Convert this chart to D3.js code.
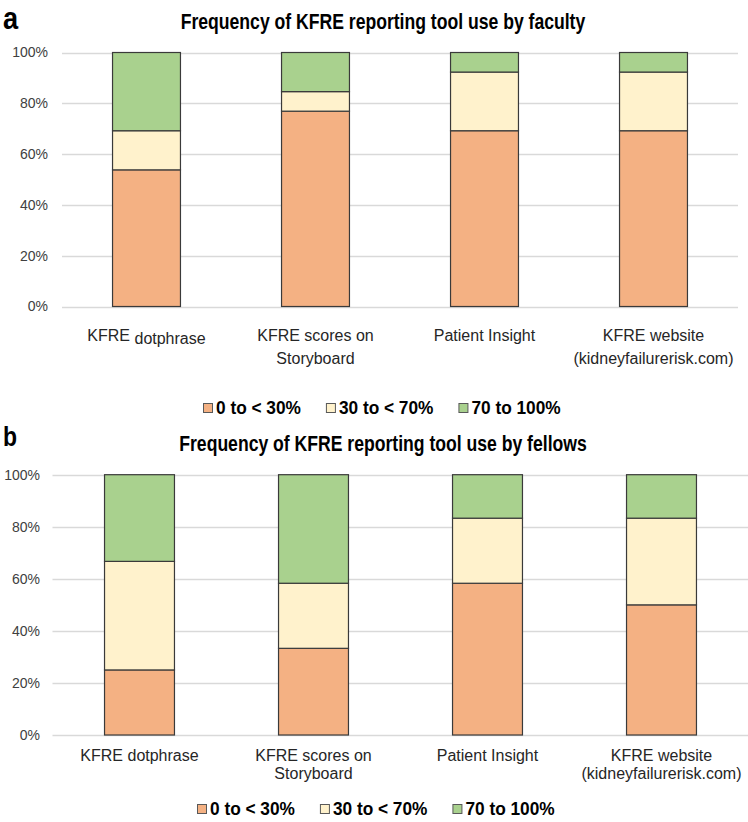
<!DOCTYPE html>
<html>
<head>
<meta charset="utf-8">
<script src="https://cdn.jsdelivr.net/npm/d3@7/dist/d3.min.js"></script>
<style>
  html, body { margin: 0; padding: 0; background: #ffffff; }
  svg { display: block; }
</style>
</head>
<body>
<svg id="chart" width="748" height="822"></svg>
<script>
// ---------- data ----------
const categories = ["KFRE dotphrase", "KFRE scores on Storyboard", "Patient Insight", "KFRE website (kidneyfailurerisk.com)"];
const categoryLines = [["KFRE dotphrase"], ["KFRE scores on", "Storyboard"], ["Patient Insight"], ["KFRE website", "(kidneyfailurerisk.com)"]];
const seriesNames = ["0 to < 30%", "30 to < 70%", "70 to 100%"];
const seriesColors = ["#F4B183", "#FFF2CC", "#A9D18E"];

const facultyLow  = [53.8, 76.9, 69.2, 69.2];
const facultyMid  = [15.4,  7.7, 23.1, 23.1];
const facultyHigh = [30.8, 15.4,  7.7,  7.7];

const fellowsLow  = [25.0, 33.3, 58.3, 50.0];
const fellowsMid  = [41.7, 25.0, 25.0, 33.3];
const fellowsHigh = [33.3, 41.7, 16.7, 16.7];

const yTicks = [0, 20, 40, 60, 80, 100];
const tickLabels = ["0%", "20%", "40%", "60%", "80%", "100%"];

const titles = ["Frequency of KFRE reporting tool use by faculty", "Frequency of KFRE reporting tool use by fellows"];
const panelLetters = ["a", "b"];

// ---------- drawing ----------
const svg = d3.select("#chart");
const FONT = "'Liberation Sans', Arial, sans-serif";

function drawPanel(p) {
  const g = svg.append("g");
  const rows = categories.map((c, i) => ({
    cat: c,
    low: p.low[i], mid: p.mid[i], high: p.high[i]
  }));
  const stack = d3.stack().keys(["low", "mid", "high"])(rows);

  const x = d3.scaleBand().domain(categories).range([p.x0, p.x1]).paddingInner(p.pad).paddingOuter(p.pad / 2);
  const y = d3.scaleLinear().domain([0, 100]).range([p.y0, p.y1]);

  // panel letter (condensed bold)
  g.append("text")
    .attr("transform", `translate(${p.letterX},${p.letterY}) scale(0.85,1)`)
    .attr("font-family", FONT).attr("font-weight", "bold")
    .attr("font-size", p.letterSize).attr("fill", "#000").text(p.letter);

  // title (condensed bold)
  g.append("text")
    .attr("transform", `translate(${p.titleX},${p.titleY}) scale(0.8,1)`)
    .attr("text-anchor", "middle")
    .attr("font-family", FONT).attr("font-weight", "bold")
    .attr("font-size", 22).attr("fill", "#000").text(p.title);

  // gridlines
  g.append("g").selectAll("line").data(yTicks).join("line")
    .attr("x1", p.x0).attr("x2", p.x1)
    .attr("y1", d => Math.round(y(d)) + 0.5).attr("y2", d => Math.round(y(d)) + 0.5)
    .attr("stroke", "#d9d9d9").attr("stroke-width", 1.3);

  // y axis labels
  const yAxis = d3.axisLeft(y).tickValues(yTicks).tickFormat((d, i) => tickLabels[i]).tickSize(0).tickPadding(0);
  const ya = g.append("g").attr("transform", `translate(${p.tickRight},0)`).call(yAxis);
  ya.select(".domain").remove();
  ya.selectAll("text").attr("font-family", FONT).attr("font-size", 14).attr("fill", "#404040");

  // bars
  g.append("g").selectAll("g").data(stack).join("g")
    .attr("fill", (d, i) => seriesColors[i])
    .selectAll("rect").data(d => d).join("rect")
    .attr("x", d => x(d.data.cat))
    .attr("width", x.bandwidth())
    .attr("y", d => y(d[1]))
    .attr("height", d => y(d[0]) - y(d[1]))
    .attr("stroke", "#3a3a3a").attr("stroke-width", 1.2);

  // category labels
  const xa = g.append("g");
  categories.forEach((c, i) => {
    const cx = x(c) + x.bandwidth() / 2;
    const t = xa.append("text").attr("text-anchor", "middle")
      .attr("font-family", FONT).attr("font-size", 16).attr("fill", "#262626");
    categoryLines[i].forEach((line, j) => {
      if (p.splitFirst && i === 0 && j === 0) {
        // reproduce the reference's slightly dropped second word
        const words = line.split(" ");
        const tt = t.append("tspan").attr("x", cx).attr("y", p.catY);
        tt.append("tspan").text(words[0]);
        tt.append("tspan").attr("dy", 3).attr("font-size", 16).text(" " + words.slice(1).join(" "));
      } else {
        t.append("tspan").attr("x", cx).attr("y", p.catY + j * p.catLineH).text(line);
      }
    });
  });

  // legend
  const lg = g.append("g");
  let lx = p.legendX;
  seriesNames.forEach((s, i) => {
    lg.append("rect").attr("x", lx + 0.5).attr("y", p.legendY - 10.5).attr("width", 9).attr("height", 9)
      .attr("fill", seriesColors[i]).attr("stroke", "#595959").attr("stroke-width", 1);
    const t = lg.append("text").attr("x", lx + 13).attr("y", p.legendY)
      .attr("transform", `translate(${(lx + 13) * 0.04},0) scale(0.96,1)`)
      .attr("font-family", FONT).attr("font-weight", "bold").attr("font-size", 18).attr("fill", "#000").text(s);
    lx += 13 + t.node().getComputedTextLength() * 0.96 + 25;
  });
}

drawPanel({
  letter: panelLetters[0], title: titles[0],
  low: facultyLow, mid: facultyMid, high: facultyHigh,
  x0: 62, x1: 738, y0: 306.5, y1: 52.5, pad: 0.598,
  tickRight: 48, letterX: 3, letterY: 29, letterSize: 32,
  titleX: 383, titleY: 29, splitFirst: true,
  catY: 341, catLineH: 23, legendX: 203, legendY: 414
});

drawPanel({
  letter: panelLetters[1], title: titles[1],
  low: fellowsLow, mid: fellowsMid, high: fellowsHigh,
  x0: 52.5, x1: 748.5, y0: 735, y1: 474.7, pad: 0.598,
  tickRight: 40, letterX: 3, letterY: 446, letterSize: 27,
  titleX: 383, titleY: 451, splitFirst: false,
  catY: 761, catLineH: 18, legendX: 197, legendY: 815
});
</script>
</body>
</html>
